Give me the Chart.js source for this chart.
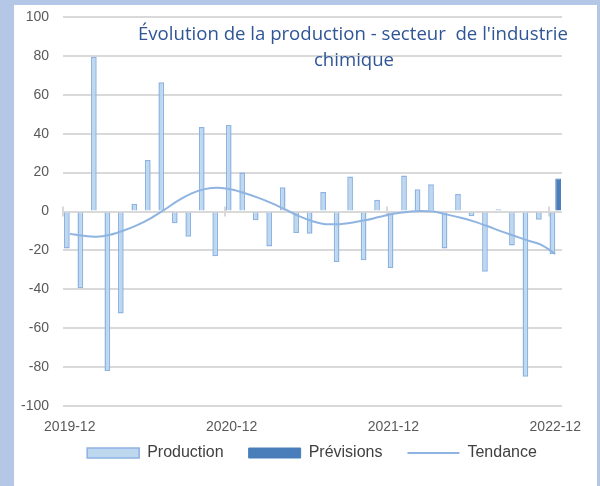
<!DOCTYPE html>
<html>
<head>
<meta charset="utf-8">
<script src="https://cdn.jsdelivr.net/npm/chart.js@4/dist/chart.umd.min.js"></script>
<style>
  html, body { margin: 0; padding: 0; background: #b4c7e7; }
  canvas { display: block; }
</style>
</head>
<body>
<canvas id="c" width="600" height="486"></canvas>
<script>
const categories = ['2019-12','2020-01','2020-02','2020-03','2020-04','2020-05','2020-06','2020-07','2020-08','2020-09','2020-10','2020-11',
  '2020-12','2021-01','2021-02','2021-03','2021-04','2021-05','2021-06','2021-07','2021-08','2021-09','2021-10','2021-11',
  '2021-12','2022-01','2022-02','2022-03','2022-04','2022-05','2022-06','2022-07','2022-08','2022-09','2022-10','2022-11','2022-12'];
const production = [-19,-39.5,79.5,-82,-52.5,4,26.5,66.5,-6,-13,43.5,-23,44.5,20,-4.5,-18,12.5,-11,-11.5,10,-26,18,-25,6,-29,18.5,11.5,14,-19,9,-2.5,-31,1.2,-17.5,-85,-4.3,-22];
const previsions = [null,null,null,null,null,null,null,null,null,null,null,null,null,null,null,null,null,null,null,null,null,null,null,null,null,null,null,null,null,null,null,null,null,null,null,null,17];
const tendance = [-11.5,-12.5,-13,-12,-9.8,-7,-3.5,0.8,5.5,9.2,11.5,12.2,11.3,9.4,7,4.2,1,-2.4,-5,-6.5,-6.5,-5.6,-4.4,-2.7,-1.2,-0.2,0.3,0,-1.6,-3.2,-5.2,-7.6,-10.2,-12.6,-15,-17.3,-21.8];
const yTicks = [-100,-80,-60,-40,-20,0,20,40,60,80,100];
const titleLines = ["Évolution de la production - secteur  de l'industrie", "chimique"];
const seriesNames = ['Production', 'Prévisions', 'Tendance'];

const bgPlugin = {
  id: 'bg',
  beforeDraw(chart) {
    const ctx = chart.ctx;
    ctx.save();
    ctx.fillStyle = '#b4c7e7';
    ctx.fillRect(0, 0, chart.width, chart.height);
    ctx.fillStyle = '#ffffff';
    ctx.fillRect(14, 5, 583, chart.height - 5);
    ctx.restore();
  }
};

const zeroTicksPlugin = {
  id: 'zeroTicks',
  beforeDatasetsDraw(chart) {
    const ctx = chart.ctx, xs = chart.scales.x, ys = chart.scales.y;
    const y0 = ys.getPixelForValue(0);
    const half = (xs.getPixelForValue(1) - xs.getPixelForValue(0)) / 2;
    ctx.save();
    ctx.strokeStyle = '#d9d9d9';
    ctx.lineWidth = 2;
    [0, 12, 24, 36].forEach(i => {
      const x = Math.round(xs.getPixelForValue(i) - half);
      ctx.beginPath();
      ctx.moveTo(x, y0 - 5);
      ctx.lineTo(x, y0 + 5);
      ctx.stroke();
    });
    ctx.restore();
  }
};

const titlePlugin = {
  id: 'titleText',
  afterDraw(chart) {
    const ctx = chart.ctx;
    ctx.save();
    ctx.font = '18.6px "Open Sans"';
    ctx.fillStyle = '#2f5597';
    ctx.textAlign = 'center';
    ctx.textBaseline = 'middle';
    ctx.fillText(titleLines[0], 353, 35);
    ctx.fillText(titleLines[1], 354, 61);
    ctx.restore();
  }
};

const legendPlace = {
  id: 'legendPlace',
  afterLayout(chart) {
    const l = chart.legend;
    l.maxWidth = 1000;
    l.fit();
    const h = l.height;
    l.top = 420; l.bottom = 420 + h;
    l.left = 52; l.right = 572; l.width = 520;
  }
};

new Chart(document.getElementById('c'), {
  data: {
    labels: categories,
    datasets: [
      { type: 'bar', label: seriesNames[0], data: production, backgroundColor: '#bdd7ee', borderColor: '#8db3e2', borderWidth: 1.5, order: 2 },
      { type: 'bar', label: seriesNames[1], data: previsions, backgroundColor: '#4a7ebb', borderColor: '#4a7ebb', borderWidth: 1, order: 2 },
      { type: 'line', label: seriesNames[2], data: tendance, borderColor: '#8fb4e1', backgroundColor: '#8fb4e1', borderWidth: 2, pointRadius: 0, tension: 0.4, cubicInterpolationMode: 'monotone', order: 1 }
    ]
  },
  options: {
    responsive: false,
    animation: false,
    devicePixelRatio: 1,
    layout: { padding: { left: 14, right: 38, top: 17, bottom: 4 } },
    datasets: { bar: { categoryPercentage: 0.85, barPercentage: 1.0 } },
    scales: {
      x: {
        type: 'category',
        offset: true,
        grid: { display: false, drawTicks: false },
        border: { display: false },
        ticks: {
          autoSkip: false, maxRotation: 0, minRotation: 0, padding: 13,
          color: '#595959', font: { family: 'Liberation Sans', size: 14 },
          callback: function(v, i) { return i % 12 === 0 ? categories[i] : ''; }
        },
        afterFit(s) { s.height = 25; }
      },
      y: {
        min: -100, max: 100,
        afterBuildTicks(s) { s.ticks = yTicks.map(v => ({ value: v })); },
        grid: { color: '#d9d9d9', lineWidth: 2, drawTicks: false },
        border: { display: false },
        ticks: { padding: 14, color: '#595959', font: { family: 'Liberation Sans', size: 14 } },
        afterFit(s) { s.width = 49; s.paddingTop = 0; s.paddingBottom = 0; }
      }
    },
    plugins: {
      title: { display: false },
      tooltip: { enabled: false },
      legend: {
        position: 'bottom',
        labels: {
          usePointStyle: true,
          pointStyleWidth: 52,
          boxHeight: 10,
          padding: 25,
          color: '#404040',
          font: { family: 'Liberation Sans', size: 16 },
          sort: (a, b) => a.datasetIndex - b.datasetIndex,
          generateLabels(chart) {
            const items = Chart.defaults.plugins.legend.labels.generateLabels(chart);
            items.forEach(it => {
              it.pointStyle = chart.data.datasets[it.datasetIndex].type === 'line' ? 'line' : 'rect';
            });
            return items;
          }
        }
      }
    }
  },
  plugins: [bgPlugin, zeroTicksPlugin, titlePlugin, legendPlace]
});
</script>
</body>
</html>
